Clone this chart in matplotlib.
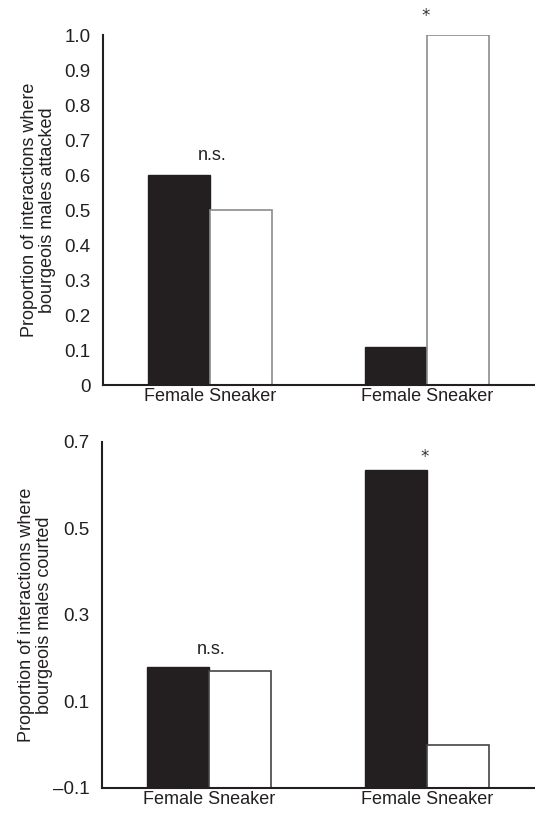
import matplotlib.pyplot as plt

plt.rc('font', family='Liberation Sans')

# data
groups = ['Female Sneaker', 'Female Sneaker']
attacked_black = [0.60, 0.11]
attacked_white = [0.50, 1.00]
courted_black = [0.18, 0.635]
courted_white = [0.17, 0.00]
attacked_marks = ['n.s.', '*']
courted_marks = ['n.s.', '*']

pos = [0, 3.5]

f = plt.figure(figsize=(5.35, 8.13), dpi=100)
ax1 = f.add_axes([0.1925, 0.5264, 0.8075, 0.4305])
ax2 = f.add_axes([0.1907, 0.0308, 0.8093, 0.4256])


def draw(ax, black, white, marks, base, ylim, yticks, yticklabels, ylabel, white_edge,
         ns_off, star_off, labelpad):
    xb = [p - 0.5 for p in pos]
    xw = [p + 0.5 for p in pos]
    hb = [v - base for v in black]
    hw = [v - base for v in white]
    ax.bar(xb, hb, width=1.0, bottom=base, color='#231f20', edgecolor='#231f20', linewidth=1)
    ax.bar(xw, hw, width=1.0, bottom=base, color='white', edgecolor=white_edge, linewidth=1.2)
    rng = ylim[1] - ylim[0]
    for p, b, w, m in zip(pos, black, white, marks):
        top = max(b, w)
        if m == '*':
            ax.text(p - 0.03, top + star_off * rng, '*', ha='center', va='center',
                    fontsize=12, family='DejaVu Sans', color='#333333', clip_on=False)
        else:
            ax.text(p + 0.03, top + ns_off * rng, m, ha='center', va='center',
                    fontsize=13, color='#231f20')
    ax.set_xlim(-1.726, 5.24)
    ax.set_ylim(*ylim)
    ax.set_yticks(yticks)
    ax.set_yticklabels(yticklabels, fontsize=13.5, color='#231f20')
    ax.set_xticks(pos)
    ax.set_xticklabels(groups, fontsize=13, color='#231f20')
    ax.tick_params(axis='y', length=0, pad=9)
    ax.tick_params(axis='x', length=0, pad=2)
    for s in ['top', 'right']:
        ax.spines[s].set_visible(False)
    for s in ['left', 'bottom']:
        ax.spines[s].set_linewidth(1.5)
        ax.spines[s].set_color('#231f20')
    ax.set_ylabel(ylabel, fontsize=13, color='#231f20', labelpad=labelpad, linespacing=1.05)


draw(ax1, attacked_black, attacked_white, attacked_marks, 0.0, (0, 1.0),
     [i / 10 for i in range(11)], ['0'] + ['%.1f' % (i / 10) for i in range(1, 11)],
     'Proportion of interactions where\nbourgeois males attacked', '#8c8c8c',
     0.057, 0.055, 6)

draw(ax2, courted_black, courted_white, courted_marks, -0.1, (-0.1, 0.7),
     [-0.1, 0.1, 0.3, 0.5, 0.7], ['\u20130.1', '0.1', '0.3', '0.5', '0.7'],
     'Proportion of interactions where\nbourgeois males courted', '#444444',
     0.05, 0.037, 0)

f.savefig('out.png', dpi=100)
